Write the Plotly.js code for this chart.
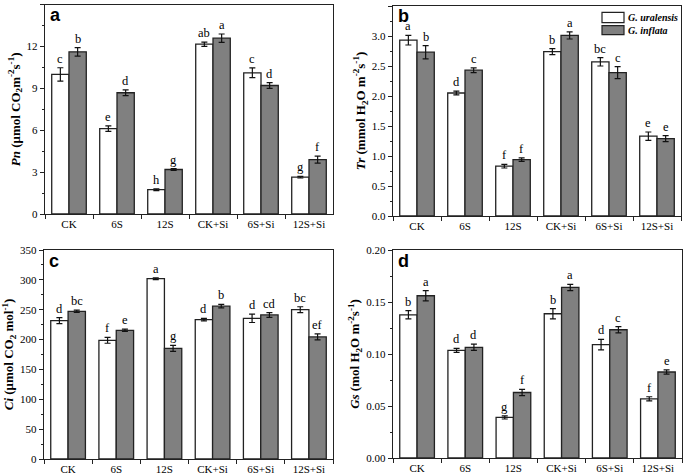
<!DOCTYPE html>
<html><head><meta charset="utf-8">
<script src="https://cdn.plot.ly/plotly-3.0.1.min.js"></script>
<style>html,body{margin:0;padding:0;background:#fff}#chart{width:685px;height:474px}</style>
</head><body><div id="chart"></div>
<script>
const categories = ['CK','6S','12S','CK+Si','6S+Si','12S+Si'];
const seriesNames = ['G. uralensis','G. inflata'];
const seriesColors = ['#ffffff','#808080'];

// Pn
const pnUral = [10.0, 6.12, 1.74, 12.17, 10.12, 2.64];
const pnUralErr = [0.48, 0.2, 0.07, 0.15, 0.35, 0.06];
const pnInfl = [11.62, 8.69, 3.19, 12.6, 9.21, 3.9];
const pnInflErr = [0.3, 0.2, 0.06, 0.3, 0.2, 0.25];
const pnUralLet = ['c','e','h','ab','c','g'];
const pnInflLet = ['b','d','g','a','d','f'];

// Tr
const trUral = [2.93, 2.05, 0.83, 2.74, 2.57, 1.33];
const trUralErr = [0.08, 0.03, 0.03, 0.05, 0.07, 0.07];
const trInfl = [2.73, 2.43, 0.94, 3.01, 2.39, 1.29];
const trInflErr = [0.11, 0.04, 0.03, 0.06, 0.1, 0.05];
const trUralLet = ['a','d','f','b','bc','e'];
const trInflLet = ['b','c','f','a','c','e'];

// Ci
const ciUral = [231.7, 198.8, 302, 233.4, 235.6, 250];
const ciUralErr = [5, 5, 1.5, 2, 7, 5];
const ciInfl = [247.3, 215.5, 185.4, 256, 241.2, 204.4];
const ciInflErr = [2, 2, 5, 3, 4, 5];
const ciUralLet = ['d','f','a','d','d','bc'];
const ciInflLet = ['bc','e','g','b','cd','ef'];

// Gs
const gsUral = [0.1377, 0.1035, 0.039, 0.1387, 0.109, 0.0569];
const gsUralErr = [0.004, 0.002, 0.0015, 0.005, 0.005, 0.002];
const gsInfl = [0.156, 0.1064, 0.063, 0.164, 0.1233, 0.0827];
const gsInflErr = [0.005, 0.003, 0.003, 0.003, 0.003, 0.002];
const gsUralLet = ['b','d','g','b','d','f'];
const gsInflLet = ['a','d','f','a','c','e'];

const W = 685, H = 474;
const serif = 'Liberation Serif, Times New Roman, serif';
const sans = 'Liberation Sans, Arial, sans-serif';

const panels = [
  {ax:'', ural:pnUral, ue:pnUralErr, infl:pnInfl, ie:pnInflErr, ul:pnUralLet, il:pnInflLet,
   px:[45,333], py:[4.7,214], range:[0,15], dtick:3, minor:1.5, fmt:'',
   title:'<b><i>Pn</i> (μmol CO<sub>2</sub>m<sup>-2</sup>s<sup>-1</sup>)</b>', letter:'a'},
  {ax:'2', ural:trUral, ue:trUralErr, infl:trInfl, ie:trInflErr, ul:trUralLet, il:trInflLet,
   px:[393,681], py:[6,216], range:[0,3.5], dtick:0.5, minor:0.25, fmt:'.1f',
   title:'<b><i>Tr</i> (mmol H<sub>2</sub>O m<sup>-2</sup>s<sup>-1</sup>)</b>', letter:'b'},
  {ax:'3', ural:ciUral, ue:ciUralErr, infl:ciInfl, ie:ciInflErr, ul:ciUralLet, il:ciInflLet,
   px:[44,333], py:[250,459], range:[0,350], dtick:50, minor:25, fmt:'',
   title:'<b><i>Ci</i> (μmol CO<sub>2</sub> mol<sup>-1</sup>)</b>', letter:'c'},
  {ax:'4', ural:gsUral, ue:gsUralErr, infl:gsInfl, ie:gsInflErr, ul:gsUralLet, il:gsInflLet,
   px:[393,682], py:[250,458], range:[0,0.2], dtick:0.05, minor:0.025, fmt:'.2f',
   title:'<b><i>Gs</i> (mol H<sub>2</sub>O m<sup>-2</sup>s<sup>-1</sup>)</b>', letter:'d'}
];

const data = [];
const layout = {
  width: W, height: H,
  margin: {l:0, r:0, t:0, b:0},
  paper_bgcolor: '#fff', plot_bgcolor: '#fff',
  barmode: 'group', bargap: 0.28, bargroupgap: 0,
  font: {family: serif, size: 11, color: '#000'},
  showlegend: false,
  annotations: [],
  shapes: []
};

panels.forEach((p, i) => {
  const xa = 'x' + p.ax, ya = 'y' + p.ax;
  const common = {type:'bar', x: categories, xaxis: xa, yaxis: ya, cliponaxis: false};
  data.push(Object.assign({}, common, {
    name: seriesNames[0], y: p.ural,
    marker: {color: seriesColors[0], line: {color: '#222', width: 1.3}},
    error_y: {type: 'data', array: p.ue, visible: true, color: '#111', thickness: 1.2, width: 3}
  }));
  data.push(Object.assign({}, common, {
    name: seriesNames[1], y: p.infl,
    marker: {color: seriesColors[1], line: {color: '#222', width: 1.3}},
    error_y: {type: 'data', array: p.ie, visible: true, color: '#111', thickness: 1.2, width: 3}
  }));
  const xkey = 'xaxis' + p.ax, ykey = 'yaxis' + p.ax;
  layout[xkey] = {
    domain: [p.px[0]/W, p.px[1]/W], anchor: ya, type: 'category',
    showline: true, linecolor: '#222', linewidth: 1.2, mirror: true,
    ticks: 'outside', ticklen: 4, tickcolor: '#222', tickson: 'boundaries',
    showgrid: false, zeroline: false, fixedrange: true,
    tickfont: {family: serif, size: 11, color: '#000'}
  };
  layout[ykey] = {
    domain: [1 - p.py[1]/H, 1 - p.py[0]/H], anchor: xa, range: p.range,
    dtick: p.dtick, tick0: 0, tickformat: p.fmt,
    showline: true, linecolor: '#222', linewidth: 1.2, mirror: true,
    ticks: 'outside', ticklen: 4, tickcolor: '#222',
    minor: {ticks: 'outside', ticklen: 2, dtick: p.minor, tickcolor: '#222', showgrid: false},
    showgrid: false, zeroline: false, fixedrange: true,
    tickfont: {family: serif, size: 11, color: '#000'},
    title: {text: p.title, font: {family: serif, size: 13, color: '#000'}, standoff: 3}
  };
  // panel letter
  layout.annotations.push({
    xref: 'paper', yref: 'paper', x: (p.px[0] + 4)/W, y: 1 - (p.py[0] + 10.5)/H,
    xanchor: 'left', yanchor: 'middle', text: '<b>' + p.letter + '</b>', showarrow: false,
    font: {family: sans, size: 18, color: '#000'}, borderpad: 0
  });
  // significance letters
  const barOff = (p.px[1] - p.px[0]) / 6 * (1 - 0.28) / 4;
  categories.forEach((c, k) => {
    layout.annotations.push({
      xref: xa, yref: ya, x: c, y: p.ural[k] + p.ue[k], xshift: -barOff, yshift: 1,
      yanchor: 'bottom', text: p.ul[k], showarrow: false, borderpad: 0,
      font: {family: serif, size: 12.5, color: '#000'}
    });
    layout.annotations.push({
      xref: xa, yref: ya, x: c, y: p.infl[k] + p.ie[k], xshift: barOff, yshift: 1,
      yanchor: 'bottom', text: p.il[k], showarrow: false, borderpad: 0,
      font: {family: serif, size: 12.5, color: '#000'}
    });
  });
});

// custom legend in panel b (top-right)
const legBoxes = [[12.3, 22.7], [25.7, 34.6]];
seriesNames.forEach((n, j) => {
  layout.shapes.push({
    type: 'rect', xref: 'paper', yref: 'paper',
    x0: 602/W, x1: 624/W, y0: 1 - legBoxes[j][1]/H, y1: 1 - legBoxes[j][0]/H,
    fillcolor: seriesColors[j], line: {color: '#222', width: 1.2}
  });
  layout.annotations.push({
    xref: 'paper', yref: 'paper', x: 626/W, y: 1 - (legBoxes[j][0] + legBoxes[j][1])/2/H,
    xanchor: 'left', yanchor: 'middle', text: '<b><i>' + n + '</i></b>', showarrow: false,
    font: {family: serif, size: 10, color: '#000'}
  });
});

Plotly.newPlot('chart', data, layout, {displayModeBar: false, staticPlot: true});
</script>
</body></html>
